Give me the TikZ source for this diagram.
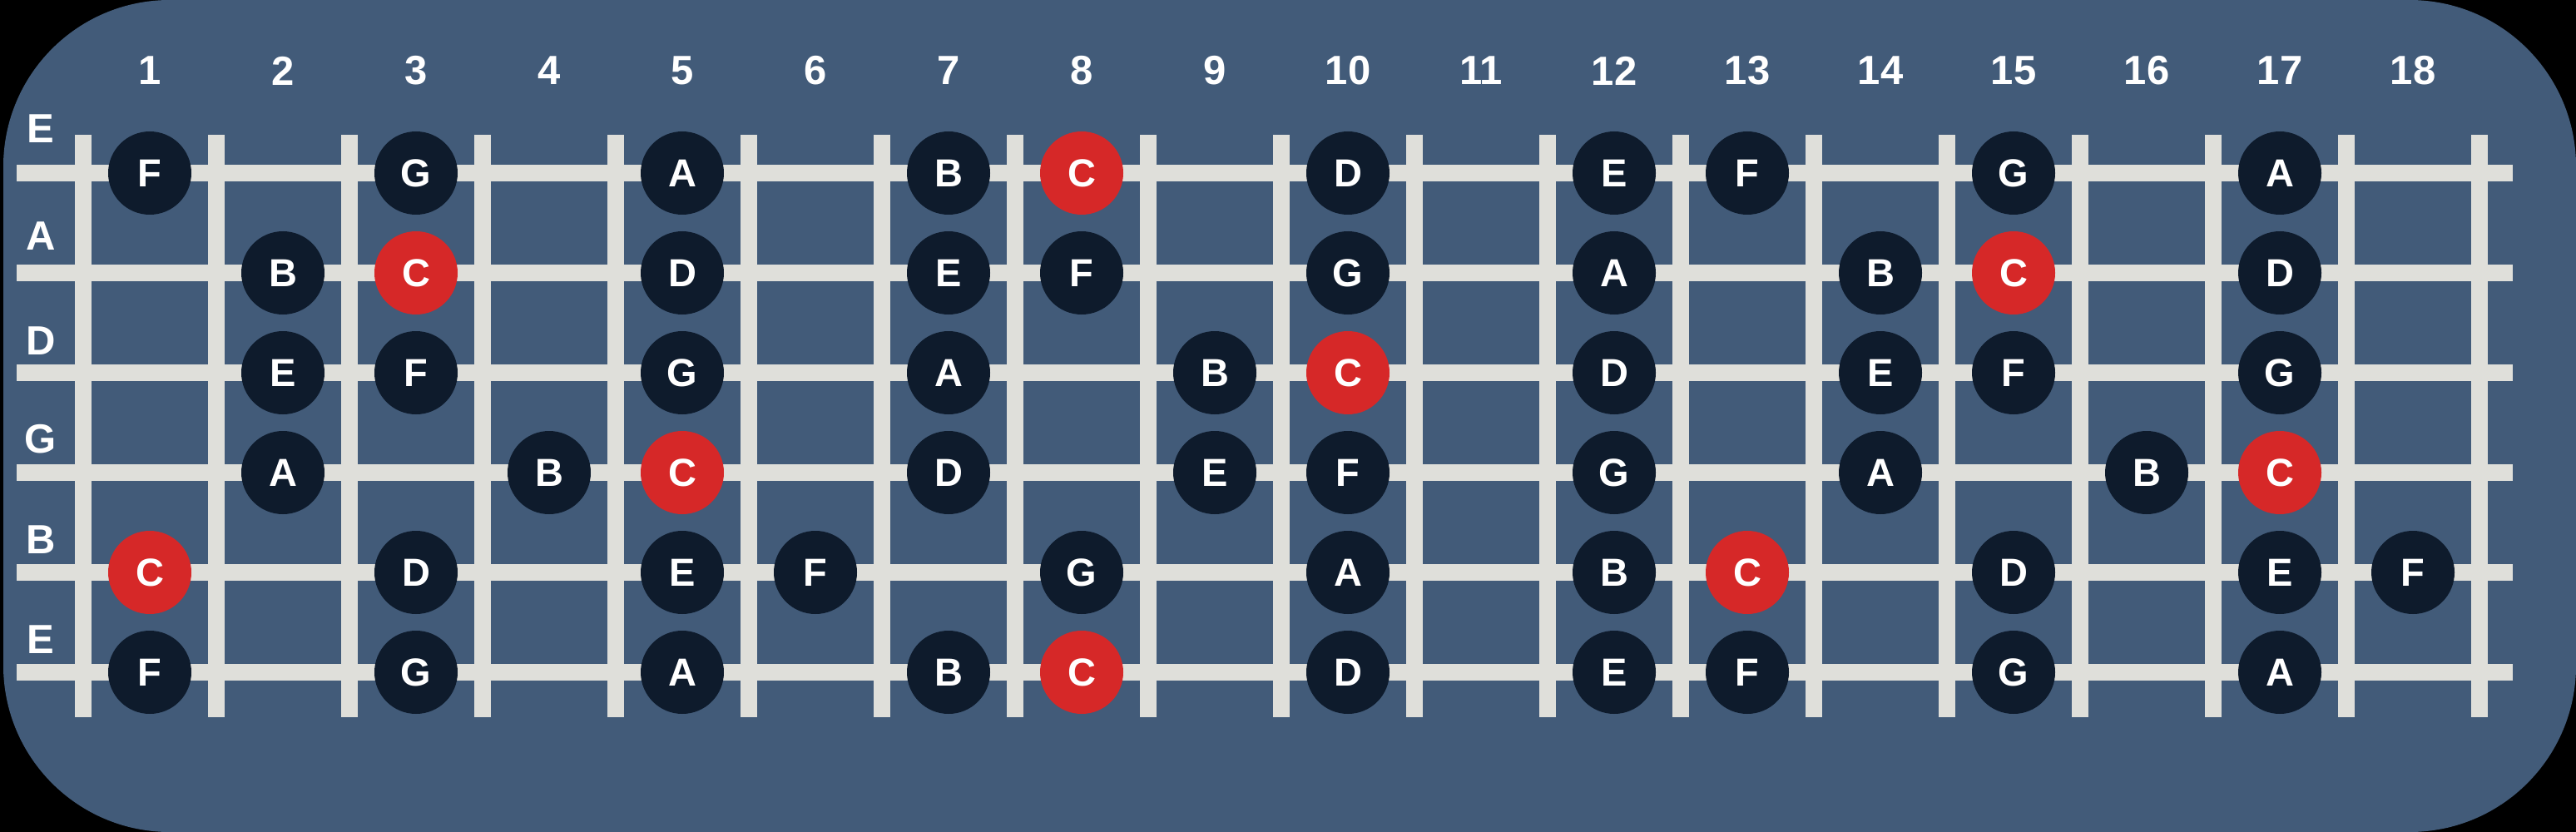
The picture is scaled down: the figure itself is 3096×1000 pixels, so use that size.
\documentclass[tikz,border=0pt]{standalone}
\usepackage{fontspec}
\setmainfont{Liberation Sans}
\definecolor{bgc}{HTML}{425B79}
\definecolor{wire}{HTML}{DFDFDA}
\definecolor{dot}{HTML}{0E1B2C}
\definecolor{root}{HTML}{D62828}
\begin{document}
\begin{tikzpicture}[x=1pt,y=-1pt,
  fretnum/.style={text=white,inner sep=0pt,font=\fontsize{49}{55}\selectfont\bfseries},
  strlabel/.style={text=white,inner sep=0pt,font=\fontsize{49}{55}\selectfont\bfseries},
  notedot/.style={circle,minimum size=100pt,inner sep=0pt,text=white,font=\fontsize{47}{53}\selectfont\bfseries}]
\fill[black] (0,0) rectangle (3096,1000);
\useasboundingbox (0,0) rectangle (3096,1000);
\fill[bgc,rounded corners=200pt] (4,0) rectangle (3096,1000);
% strings
\foreach \s in {1,...,6}
  \fill[wire] (20,{78+120*\s}) rectangle (3020,{98+120*\s});
% frets
\foreach \f in {0,...,18}
  \fill[wire] ({90+160*\f},162) rectangle ({110+160*\f},862);
% fret numbers
\foreach \f in {1,...,18}
  \node[fretnum] (fn\f) at ({20+160*\f},85) {\f};
% string labels
\foreach \s/\l/\y in {1/E/155,2/A/284,3/D/410,4/G/528,5/B/649,6/E/769}
  \node[strlabel] (sl\s) at (49,\y) {\l};
% notes
\foreach \s/\f/\n/\col in {
  1/1/F/dot,1/3/G/dot,1/5/A/dot,1/7/B/dot,1/8/C/root,1/10/D/dot,1/12/E/dot,1/13/F/dot,1/15/G/dot,1/17/A/dot,
  2/2/B/dot,2/3/C/root,2/5/D/dot,2/7/E/dot,2/8/F/dot,2/10/G/dot,2/12/A/dot,2/14/B/dot,2/15/C/root,2/17/D/dot,
  3/2/E/dot,3/3/F/dot,3/5/G/dot,3/7/A/dot,3/9/B/dot,3/10/C/root,3/12/D/dot,3/14/E/dot,3/15/F/dot,3/17/G/dot,
  4/2/A/dot,4/4/B/dot,4/5/C/root,4/7/D/dot,4/9/E/dot,4/10/F/dot,4/12/G/dot,4/14/A/dot,4/16/B/dot,4/17/C/root,
  5/1/C/root,5/3/D/dot,5/5/E/dot,5/6/F/dot,5/8/G/dot,5/10/A/dot,5/12/B/dot,5/13/C/root,5/15/D/dot,5/17/E/dot,5/18/F/dot,
  6/1/F/dot,6/3/G/dot,6/5/A/dot,6/7/B/dot,6/8/C/root,6/10/D/dot,6/12/E/dot,6/13/F/dot,6/15/G/dot,6/17/A/dot}
  \node[notedot,fill=\col] (n\s-\f) at ({20+160*\f},{88+120*\s}) {\n};
\end{tikzpicture}
\end{document}
